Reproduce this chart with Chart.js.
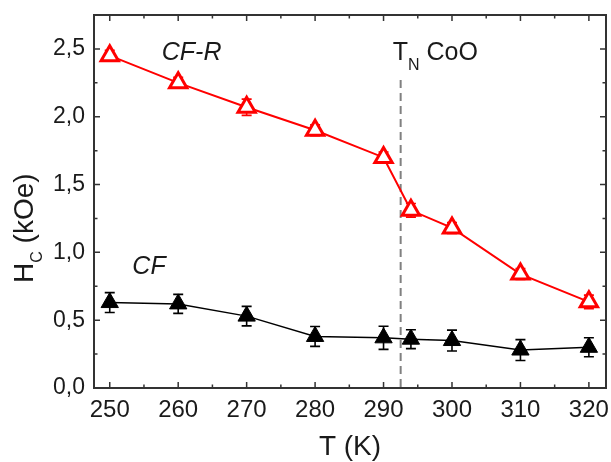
<!DOCTYPE html>
<html lang="en">
<head>
<meta charset="UTF-8">
<title>Hc vs T</title>
<script src="https://cdn.jsdelivr.net/npm/chart.js"></script>
<style>
  html, body { margin: 0; padding: 0; background: #fff; }
  #wrap { width: 611px; height: 462px; }
</style>
</head>
<body>
<div id="wrap"><canvas id="hcChart" width="611" height="462"></canvas></div>
<script>
// data
const temps = [250, 260, 270, 280, 290, 294, 300, 310, 320];
const hcCFR = [2.45, 2.25, 2.07, 1.90, 1.70, 1.31, 1.18, 0.84, 0.635];
const errCFR = [0.04, 0.04, 0.06, 0.04, 0.04, 0.05, 0.04, 0.04, 0.05];
const hcCF = [0.63, 0.62, 0.53, 0.38, 0.37, 0.36, 0.35, 0.28, 0.30];
const errCF = [0.073, 0.07, 0.072, 0.073, 0.085, 0.07, 0.077, 0.077, 0.07];
const xTicks = [250, 260, 270, 280, 290, 300, 310, 320];
const yTicks = [0, 0.5, 1.0, 1.5, 2.0, 2.5];
const tNeel = 292.5;

const FONT = "'Liberation Sans', Arial, sans-serif";
const INK = "#1a1a1a";

function pts(ys) {
    return temps.map((t, i) => ({ x: t, y: ys[i] }));
}

// error bars, dashed T_N line, frame, inward ticks and text labels
const decor = {
    id: "decor",
    beforeDatasetsDraw(chart) {
        const { ctx, chartArea: a } = chart;
        const xs = chart.scales.x, ys = chart.scales.y;

        // dashed line at T_N
        ctx.save();
        ctx.strokeStyle = "#808080";
        ctx.lineWidth = 2;
        ctx.setLineDash([8, 5]);
        const xn = xs.getPixelForValue(tNeel);
        ctx.beginPath();
        ctx.moveTo(xn, ys.getPixelForValue(2.27));
        ctx.lineTo(xn, a.bottom);
        ctx.stroke();
        ctx.restore();

        // error bars
        const bars = [[hcCFR, errCFR, "red"], [hcCF, errCF, "#000"]];
        bars.forEach(([vals, errs, col]) => {
            ctx.save();
            ctx.strokeStyle = col;
            ctx.lineWidth = 1.6;
            temps.forEach((t, i) => {
                const px = xs.getPixelForValue(t);
                const top = ys.getPixelForValue(vals[i] + errs[i]);
                const bot = ys.getPixelForValue(vals[i] - errs[i]);
                ctx.beginPath();
                ctx.moveTo(px, top); ctx.lineTo(px, bot);
                ctx.moveTo(px - 5, top); ctx.lineTo(px + 5, top);
                ctx.moveTo(px - 5, bot); ctx.lineTo(px + 5, bot);
                ctx.stroke();
            });
            ctx.restore();
        });
    },
    afterDatasetsDraw(chart) {
        const { ctx, chartArea: a } = chart;
        const xs = chart.scales.x, ys = chart.scales.y;

        ctx.save();
        ctx.strokeStyle = "#333";
        ctx.lineWidth = 2;
        ctx.strokeRect(a.left, a.top, a.right - a.left, a.bottom - a.top);

        // inward ticks on all four sides
        ctx.lineWidth = 1.5;
        ctx.beginPath();
        xTicks.forEach((v, i) => {
            const px = xs.getPixelForValue(v);
            ctx.moveTo(px, a.bottom); ctx.lineTo(px, a.bottom - 6);
            ctx.moveTo(px, a.top); ctx.lineTo(px, a.top + 6);
            if (i < xTicks.length - 1) {
                const pm = xs.getPixelForValue(v + 5);
                ctx.moveTo(pm, a.bottom); ctx.lineTo(pm, a.bottom - 3.5);
                ctx.moveTo(pm, a.top); ctx.lineTo(pm, a.top + 3.5);
            }
        });
        yTicks.forEach(v => {
            const py = ys.getPixelForValue(v);
            ctx.moveTo(a.left, py); ctx.lineTo(a.left + 6, py);
            ctx.moveTo(a.right, py); ctx.lineTo(a.right - 6, py);
            const pm = ys.getPixelForValue(v + 0.25);
            ctx.moveTo(a.left, pm); ctx.lineTo(a.left + 3.5, pm);
            ctx.moveTo(a.right, pm); ctx.lineTo(a.right - 3.5, pm);
        });
        ctx.stroke();

        // x tick labels
        ctx.fillStyle = INK;
        ctx.textAlign = "center";
        ctx.textBaseline = "alphabetic";
        ctx.font = "24px " + FONT;
        xTicks.forEach(v => {
            ctx.fillText(String(v), xs.getPixelForValue(v), a.bottom + 29);
        });

        // series labels
        ctx.textAlign = "left";
        ctx.font = "italic 25px " + FONT;
        ctx.fillText("CF-R", xs.getPixelForValue(257.6), ys.getPixelForValue(2.42));
        ctx.fillText("CF", xs.getPixelForValue(253.3), ys.getPixelForValue(0.84));

        // T_N CoO
        const lx = xs.getPixelForValue(tNeel) - 8;
        const ly = a.top + 45;
        ctx.font = "25px " + FONT;
        ctx.fillText("T", lx, ly);
        let w = ctx.measureText("T").width;
        ctx.font = "16px " + FONT;
        ctx.fillText("N", lx + w, ly + 10);
        w += ctx.measureText("N").width + 7;
        ctx.font = "25px " + FONT;
        ctx.fillText("CoO", lx + w, ly);

        // x title
        ctx.textAlign = "center";
        ctx.font = "28px " + FONT;
        ctx.fillText("T (K)", (a.left + a.right) / 2, 455);

        // y title, rotated, with subscript
        ctx.translate(33, 283);
        ctx.rotate(-Math.PI / 2);
        ctx.textAlign = "left";
        ctx.font = "28px " + FONT;
        ctx.fillText("H", 0, 0);
        let yw = ctx.measureText("H").width;
        ctx.font = "16px " + FONT;
        ctx.fillText("C", yw, 9);
        yw += ctx.measureText("C").width;
        ctx.font = "28px " + FONT;
        ctx.fillText(" (kOe)", yw, 0);
        ctx.restore();
    }
};

new Chart(document.getElementById("hcChart"), {
    type: "scatter",
    data: {
        datasets: [
            {
                label: "CF-R",
                data: pts(hcCFR),
                showLine: true,
                borderColor: "red",
                borderWidth: 2,
                pointStyle: "triangle",
                pointRadius: 10,
                pointBorderWidth: 3,
                pointBackgroundColor: "#fff",
                pointBorderColor: "red"
            },
            {
                label: "CF",
                data: pts(hcCF),
                showLine: true,
                borderColor: "#000",
                borderWidth: 1.5,
                pointStyle: "triangle",
                pointRadius: 10,
                pointBorderWidth: 1,
                pointBackgroundColor: "#000",
                pointBorderColor: "#000"
            }
        ]
    },
    options: {
        responsive: false,
        animation: false,
        layout: { autoPadding: false, padding: { top: 15, right: 5, left: 0, bottom: 0 } },
        plugins: {
            legend: { display: false },
            tooltip: { enabled: false }
        },
        scales: {
            x: {
                type: "linear",
                min: 247.7,
                max: 322.5,
                afterBuildTicks: s => { s.ticks = xTicks.map(v => ({ value: v })); },
                afterFit: s => { s.height = 74; },
                grid: { display: false, drawTicks: false },
                border: { display: false },
                ticks: { display: false }
            },
            y: {
                min: 0,
                max: 2.75,
                afterBuildTicks: s => { s.ticks = yTicks.map(v => ({ value: v })); },
                afterFit: s => { s.width = 94; s.paddingTop = 0; s.paddingBottom = 0; },
                grid: { display: false, drawTicks: false },
                border: { display: false },
                ticks: {
                    font: { family: FONT, size: 23 },
                    color: INK,
                    padding: 9,
                    callback: v => v.toFixed(1).replace(".", ",")
                }
            }
        }
    },
    plugins: [decor]
});
</script>
</body>
</html>
